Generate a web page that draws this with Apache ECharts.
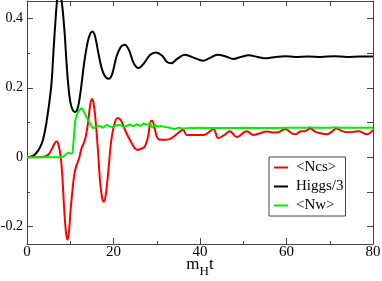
<!DOCTYPE html>
<html><head><meta charset="utf-8">
<script src="https://cdn.jsdelivr.net/npm/echarts@6/dist/echarts.min.js"></script>
<style>html,body{margin:0;padding:0;background:#fff}#c{width:382px;height:281px}</style>
</head><body><div id="c"></div>
<script>
// ---- data ----
const seriesNames = ['<Ncs>', 'Higgs/3', '<Nw>'];
const seriesColors = ['#ff0000', '#000000', '#00ee00'];

const ncsT = [0,3,4,5,5.8,6.4,6.9,7.3,7.8,8.2,8.6,9.0,9.35,9.7,10.1,10.6,11.0,11.4,12.0,12.6,13.4,14.1,14.6,15.0,15.4,15.9,16.4,16.9,17.4,17.75,18.2,18.8,19.5,20.2,20.9,21.6,22.3,23,24,24.9,25.5,26.3,27.2,28,28.5,28.9,29.4,30,30.7,31.8,33,34.5,36.1,36.9,38.5,41.1,43.1,44.2,45.5,46.9,48.5,50.8,52.3,53.9,55.4,57,58.1,59.7,61.2,62,63.2,64.3,65.5,66.6,67.8,69.3,70.5,71.6,72.8,74,75.5,76.7,78.6,80];
const ncsV = [0,0,0.002,0.008,0.025,0.04,0.045,0.035,0.0,-0.06,-0.15,-0.215,-0.238,-0.215,-0.15,-0.085,-0.045,-0.025,-0.005,0.025,0.05,0.098,0.15,0.168,0.155,0.1,0.02,-0.07,-0.12,-0.128,-0.11,-0.04,0.05,0.095,0.113,0.108,0.09,0.069,0.045,0.026,0.021,0.024,0.03,0.06,0.1,0.106,0.09,0.06,0.05,0.05,0.052,0.065,0.079,0.064,0.064,0.065,0.081,0.055,0.063,0.075,0.058,0.075,0.064,0.069,0.074,0.071,0.072,0.081,0.069,0.066,0.074,0.075,0.083,0.074,0.069,0.066,0.074,0.083,0.075,0.072,0.073,0.075,0.066,0.078];

const higgsT = [0,1,2,3,3.7,4.5,5.6,6.1,6.6,7.0,7.4,7.8,8.2,8.7,9.1,9.5,10.0,10.5,11.1,11.8,12.5,13.2,14,14.6,15.1,15.7,16.5,17.3,18.1,18.9,19.7,20.7,21.7,22.6,23.6,24.7,25.8,27,28.5,29.8,31.2,32.3,33.4,34.8,36.5,38.5,40.7,42.3,44,46,47.7,49.5,51.2,53.3,55.4,57.5,59.7,62,65,68,71,74,77,80];
const higgsV = [0,0.002,0.01,0.028,0.05,0.10,0.204,0.3,0.396,0.455,0.475,0.465,0.43,0.358,0.28,0.214,0.16,0.138,0.13,0.145,0.2,0.27,0.33,0.355,0.362,0.35,0.3,0.255,0.232,0.226,0.24,0.29,0.318,0.324,0.308,0.27,0.257,0.27,0.295,0.302,0.293,0.275,0.271,0.284,0.295,0.287,0.278,0.286,0.295,0.29,0.283,0.289,0.294,0.289,0.285,0.289,0.291,0.289,0.29,0.289,0.291,0.289,0.29,0.29];

const nwT = [0,8,8.6,9.2,9.7,10.2,10.5,10.8,11.1,11.6,12.1,12.6,13.0,13.7,14.4,15.3,16,16.8,17.6,18.4,19.2,19.9,20.7,21.5,22.3,23,23.8,24.6,25.4,26.2,27,27.7,28.4,29,29.6,30.2,31,31.9,33,34.2,35,36,37.5,40,45,50,55,60,65,65.5,66,70,71.5,72,75,80];
const nwV = [0,0,0.004,0.01,0.013,0.01,0.012,0.05,0.1,0.125,0.135,0.141,0.135,0.117,0.1,0.084,0.088,0.09,0.085,0.093,0.088,0.087,0.092,0.093,0.088,0.09,0.094,0.089,0.095,0.09,0.097,0.093,0.098,0.085,0.093,0.088,0.09,0.087,0.085,0.081,0.085,0.083,0.084,0.085,0.084,0.085,0.084,0.085,0.085,0.087,0.085,0.085,0.086,0.085,0.085,0.085];

const xTickLabels = [0, 20, 40, 60, 80];
const yTickLabels = [-0.2, 0, 0.2, 0.4];
const yMinorTicks = [-0.1, 0.1, 0.3];
const yAllTicks = [-0.2, -0.1, 0, 0.1, 0.2, 0.3, 0.4];
const xName = ['m', 'H', 't'];

// ---- chart ----
const zip = (t, v) => t.map((x, i) => [x, v[i]]);
const FONT = 'Liberation Serif';
const AX = '#444';
const xMin = 0, xMax = 80, yMin = -0.25, yMax = 0.45;

const chart = echarts.init(document.getElementById('c'), null, {renderer: 'canvas'});
chart.setOption({
  animation: false,
  backgroundColor: '#fff',
  grid: {left: 27, right: 9, top: 1, bottom: 37, containLabel: false, outerBoundsMode: 'none'},
  xAxis: [
    {
      type: 'value', position: 'bottom', min: xMin, max: xMax, interval: 20,
      axisLine: {show: true, onZero: false, lineStyle: {color: AX, width: 1}},
      axisTick: {show: true, inside: true, length: 6, lineStyle: {color: AX}},
      minorTick: {show: true, splitNumber: 2, length: 3, lineStyle: {color: AX}},
      axisLabel: {margin: 1, fontFamily: FONT, fontSize: 15, color: '#000',
        customValues: xTickLabels},
      splitLine: {show: false},
      name: '{a|' + xName[0] + '}{b|' + xName[1] + '}{a|' + xName[2] + '}',
      nameLocation: 'middle', nameGap: 9, nameMoveOverlap: false,
      nameTextStyle: {
        rich: {
          a: {fontFamily: FONT, fontSize: 17, color: '#000', verticalAlign: 'bottom', lineHeight: 20},
          b: {fontFamily: FONT, fontSize: 13, color: '#000', verticalAlign: 'bottom', lineHeight: 20, padding: [0, 0, -5, 0]}
        }
      }
    },
    {
      type: 'value', position: 'top', min: xMin, max: xMax, interval: 10,
      axisLine: {show: true, onZero: false, lineStyle: {color: AX, width: 1}},
      axisTick: {show: true, inside: true, length: 5, lineStyle: {color: AX}},
      axisLabel: {show: false},
      splitLine: {show: false}
    }
  ],
  yAxis: [
    {
      type: 'value', position: 'left', min: yMin, max: yMax,
      axisLine: {show: true, onZero: false, lineStyle: {color: AX, width: 1}},
      axisTick: {show: true, inside: true, length: 6, customValues: yTickLabels, lineStyle: {color: AX}},
      axisLabel: {customValues: yTickLabels, margin: 4, fontFamily: FONT, fontSize: 14, color: '#000',
        formatter: v => String(v)},
      splitLine: {show: false}
    },
    {
      type: 'value', position: 'left', min: yMin, max: yMax,
      axisLine: {show: false, onZero: false},
      axisTick: {show: true, inside: true, length: 3, customValues: yMinorTicks, lineStyle: {color: AX}},
      axisLabel: {show: false},
      splitLine: {show: false}
    },
    {
      type: 'value', position: 'right', min: yMin, max: yMax,
      axisLine: {show: true, onZero: false, lineStyle: {color: AX, width: 1}},
      axisTick: {show: true, inside: true, length: 6, customValues: yAllTicks, lineStyle: {color: AX}},
      axisLabel: {show: false},
      splitLine: {show: false}
    }
  ],
  legend: {
    orient: 'vertical', left: 269, top: 157,
    padding: [3, 2, 3, 5], itemGap: 4, itemWidth: 14, itemHeight: 2, icon: 'rect',
    borderColor: AX, borderWidth: 1, backgroundColor: '#fff',
    textStyle: {fontFamily: FONT, fontSize: 15, color: '#000', width: 60, padding: [0, 0, 0, 3]},
    data: seriesNames
  },
  series: [
    {name: seriesNames[0], type: 'line', data: zip(ncsT, ncsV), showSymbol: false, symbol: 'none',
      smooth: 0.35, lineStyle: {color: seriesColors[0], width: 2}, itemStyle: {color: seriesColors[0]}},
    {name: seriesNames[1], type: 'line', data: zip(higgsT, higgsV), showSymbol: false, symbol: 'none',
      smooth: 0.35, lineStyle: {color: seriesColors[1], width: 2}, itemStyle: {color: seriesColors[1]}},
    {name: seriesNames[2], type: 'line', data: zip(nwT, nwV), showSymbol: false, symbol: 'none',
      smooth: 0.15, lineStyle: {color: seriesColors[2], width: 2}, itemStyle: {color: seriesColors[2]}}
  ]
});
</script>
</body></html>
